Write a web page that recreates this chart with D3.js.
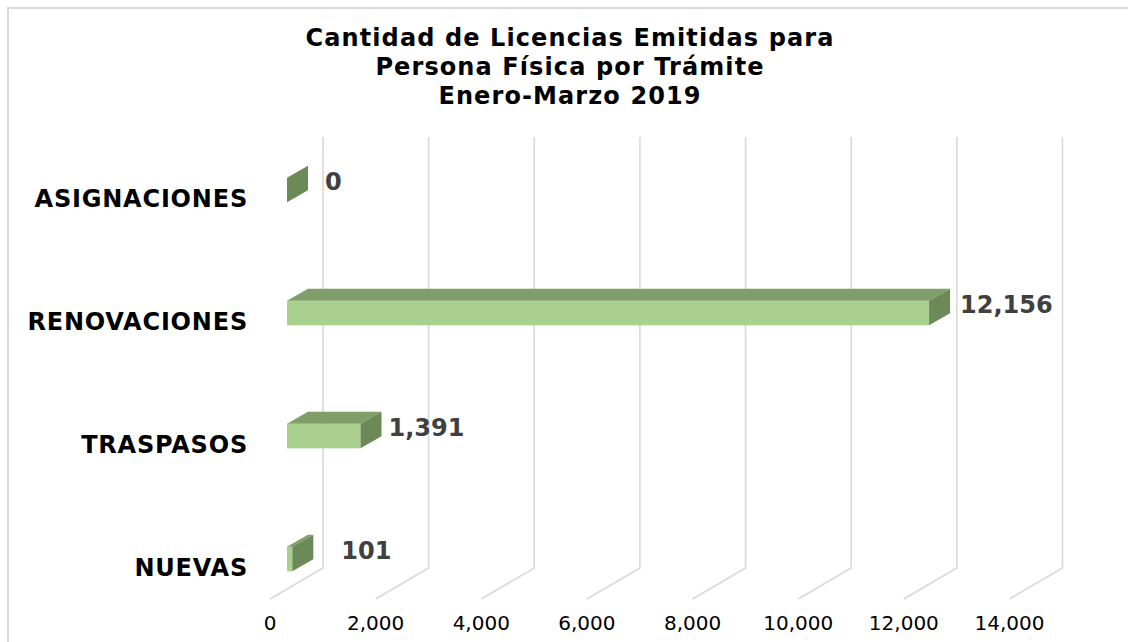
<!DOCTYPE html>
<html>
<head>
<meta charset="utf-8">
<script src="https://cdn.jsdelivr.net/npm/d3@7"></script>
<style>
  body { margin: 0; background: #fff; }
  svg { display: block; font-family: "DejaVu Sans", Verdana, sans-serif; }
</style>
</head>
<body>
<div id="chart"></div>
<script>
// data, top to bottom
const categories = ['ASIGNACIONES', 'RENOVACIONES', 'TRASPASOS', 'NUEVAS'];
const values = [0, 12156, 1391, 101];
const ticks = [0, 2000, 4000, 6000, 8000, 10000, 12000, 14000];
const titleLines = ['Cantidad de Licencias Emitidas para', 'Persona Física por Trámite', 'Enero-Marzo 2019'];
// extra gap to the right of each value label (Excel places them a bit unevenly)
const labelNudge = [17, 10, 7, 28];

const width = 1128;
const height = 642;

// 3d offsets, measured from the front face of the bars
const back = { dx: 36, dy: -21 };   // wall where the gridlines sit
const depth = { dx: 21, dy: -12 };  // thickness of a bar
const floor = { dx: -17, dy: 10 };  // front edge of the floor
const gridTop = 137;
const gridBottom = 568;

const svg = d3.select('#chart')
  .append('svg')
  .attr('width', width)
  .attr('height', height);

// chart border (only the top and left edges are in the picture)
svg.append('path')
  .attr('d', `M8,${height + 5}V8H${width + 5}`)
  .attr('fill', 'none')
  .attr('stroke', '#d9d9d9')
  .attr('stroke-width', 2);

const x = d3.scaleLinear().domain([0, 14000]).range([287, 287 + 14000 * 0.05282]);
const y = d3.scaleBand()
  .domain(categories)
  .range([128.5, 620.5])
  .paddingInner(0.8)
  .paddingOuter(0.4);
const bw = y.bandwidth();

// title
svg.append('text')
  .attr('x', 570)
  .attr('y', 46)
  .attr('text-anchor', 'middle')
  .style('font-size', '24px')
  .style('font-weight', 'bold')
  .style('letter-spacing', '1.1px')
  .attr('fill', '#000')
  .selectAll('tspan')
  .data(titleLines)
  .join('tspan')
  .attr('x', 570)
  .attr('dy', (d, i) => i === 0 ? 0 : 29)
  .text(d => d);

// gridlines on the back wall plus their floor diagonals
const grid = svg.append('g').attr('class', 'grid')
  .attr('fill', 'none')
  .attr('stroke', '#d9d9d9')
  .attr('stroke-width', 1.6);

grid.selectAll('path')
  .data(ticks)
  .join('path')
  .attr('d', d => {
    const xb = x(d) + back.dx;
    const xf = x(d) + floor.dx;
    const yf = gridBottom + (floor.dy - back.dy);
    return `M${xb},${gridTop}V${gridBottom}L${xf},${yf}`;
  });

// tick labels under the front edge of the floor
svg.append('g')
  .selectAll('text')
  .data(ticks)
  .join('text')
  .attr('x', d => x(d) + floor.dx)
  .attr('y', 630)
  .attr('text-anchor', 'middle')
  .style('font-size', '20px')
  .attr('fill', '#000')
  .text(d => d3.format(',')(d));

// category labels
svg.append('g')
  .selectAll('text')
  .data(categories)
  .join('text')
  .attr('x', 248)
  .attr('y', d => y(d) + bw / 2 + 8)
  .attr('dy', '0.36em')
  .attr('text-anchor', 'end')
  .style('font-size', '24px')
  .style('font-weight', 'bold')
  .style('letter-spacing', '0.8px')
  .attr('fill', '#000')
  .text(d => d);

// bars: front, top and side faces
const bars = svg.append('g').attr('class', 'bars')
  .selectAll('g')
  .data(categories.map((c, i) => ({ cat: c, value: values[i], nudge: labelNudge[i] })))
  .join('g');

bars.append('rect')
  .attr('x', x(0))
  .attr('y', d => y(d.cat))
  .attr('width', d => x(d.value) - x(0))
  .attr('height', bw)
  .attr('fill', '#a9d08e');

bars.append('path')
  .attr('d', d => {
    const x0 = x(0), x1 = x(d.value), yt = y(d.cat);
    return `M${x0},${yt}L${x1},${yt}L${x1 + depth.dx},${yt + depth.dy}L${x0 + depth.dx},${yt + depth.dy}Z`;
  })
  .attr('fill', '#7f9e69');

bars.append('path')
  .attr('d', d => {
    const x1 = x(d.value), yt = y(d.cat);
    return `M${x1},${yt}L${x1 + depth.dx},${yt + depth.dy}L${x1 + depth.dx},${yt + depth.dy + bw}L${x1},${yt + bw}Z`;
  })
  .attr('fill', '#6c8a58');

// value labels
bars.append('text')
  .attr('x', d => x(d.value) + depth.dx + d.nudge)
  .attr('y', d => y(d.cat) + bw / 2 - 9)
  .attr('dy', '0.36em')
  .style('font-size', '24px')
  .style('font-weight', 'bold')
  .attr('fill', '#404040')
  .text(d => d3.format(',')(d.value));
</script>
</body>
</html>
